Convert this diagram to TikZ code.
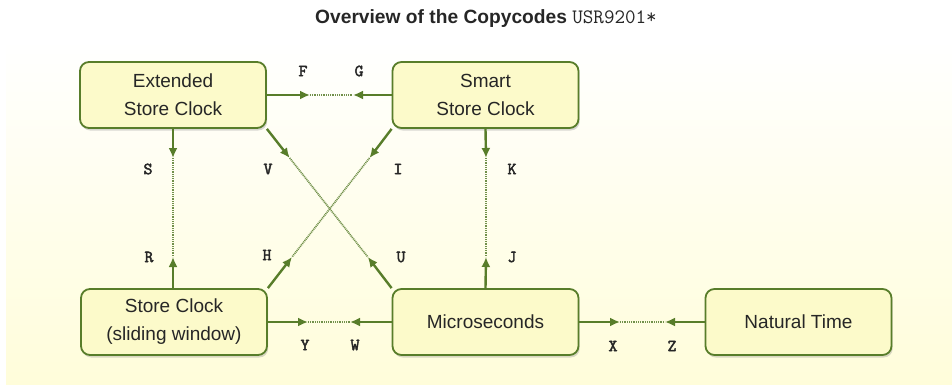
\documentclass[tikz,border=0pt]{standalone}
\usepackage{fontspec}
\setmainfont{Liberation Sans}
\newfontfamily\lblfont[FakeBold=2.5]{lmmono10-regular.otf}
\usetikzlibrary{arrows.meta,shadows}
\definecolor{grn}{RGB}{88,125,42}
\definecolor{boxfill}{RGB}{252,250,202}
\definecolor{bgbot}{RGB}{255,253,218}
\begin{document}
\begin{tikzpicture}[x=1pt,y=-1pt,
  box/.style={draw=grn, line width=1.8pt, fill=boxfill, rounded corners=9pt,
    minimum width=186pt, minimum height=66pt, inner sep=0pt, align=center,
    text=black!85, font=\fontsize{19}{28}\selectfont,
    drop shadow={opacity=0.3, shadow xshift=1.2pt, shadow yshift=-2.5pt}},
  conn/.style={draw=grn, line width=2.4pt, -{Latex[length=10pt,width=9pt]}},
  dots/.style={draw=grn!85, line width=1.7pt, dash pattern=on 1pt off 0.8pt},
  lbl/.style={font=\lblfont\fontsize{17}{17}\selectfont, text=black!85, inner sep=0pt}]
\useasboundingbox (0,0) rectangle (952,385);
\shade[top color=white, bottom color=bgbot] (6,40) rectangle (952,385);

\node[text=black!85, inner sep=0pt] (title) at (486,19)
  {\fontsize{19.2}{20}\selectfont\textbf{Overview of the Copycodes} \fontsize{20.5}{20}\selectfont\texttt{USR9201*}};

\node[box] (ext) at (173,95) {Extended\\Store Clock};
\node[box] (smart) at (485.5,95) {Smart\\Store Clock};
\node[box] (scl) at (174,322) {Store Clock\\(sliding window)};
\node[box] (micro) at (485.5,322) {Microseconds};
\node[box] (nat) at (798.5,322) {Natural Time};

% tip coordinates
\coordinate (tF) at (310,95);
\coordinate (tG) at (353,95);
\coordinate (tS) at (173,158);
\coordinate (tR) at (173,257);
\coordinate (tK) at (486,158);
\coordinate (tJ) at (486,257);
\coordinate (tV) at (289.7,158);
\coordinate (tU) at (367.8,257);
\coordinate (tI) at (369.5,158);
\coordinate (tH) at (292,257);
\coordinate (tY) at (308,322);
\coordinate (tW) at (350,322);
\coordinate (tX) at (620,322);
\coordinate (tZ) at (665,322);

% F/G
\draw[dots] (tF) -- (tG);
\draw[conn] (ext.east) -- (tF);
\draw[conn] (smart.west) -- (tG);
% S/R
\draw[dots] (tS) -- (tR);
\draw[conn] (ext.south) -- (tS);
\draw[conn] (scl.north -| tR) -- (tR);
% K/J
\draw[dots] (tK) -- (tJ);
\draw[conn] (smart.south) -- (tK);
\draw[conn] (micro.north) -- (tJ);
% V/U
\draw[dots] (tV) -- (tU);
\draw[conn] (ext.south east) -- (tV);
\draw[conn] (micro.north west) -- (tU);
% I/H
\draw[dots] (tI) -- (tH);
\draw[conn] (smart.south west) -- (tI);
\draw[conn] (scl.north east) -- (tH);
% Y/W
\draw[dots] (tY) -- (tW);
\draw[conn] (scl.east) -- (tY);
\draw[conn] (micro.west) -- (tW);
% X/Z
\draw[dots] (tX) -- (tZ);
\draw[conn] (micro.east) -- (tX);
\draw[conn] (nat.west) -- (tZ);

% labels
\node[lbl] (lF) at (303,71) {F};
\node[lbl] (lG) at (359,71) {G};
\node[lbl] (lS) at (148,169) {S};
\node[lbl] (lR) at (149,257) {R};
\node[lbl] (lV) at (268,169) {V};
\node[lbl] (lU) at (401,257) {U};
\node[lbl] (lI) at (398,169) {I};
\node[lbl] (lH) at (267,255) {H};
\node[lbl] (lK) at (512,169) {K};
\node[lbl] (lJ) at (512,257) {J};
\node[lbl] (lY) at (305,345) {Y};
\node[lbl] (lW) at (355,345) {W};
\node[lbl] (lX) at (613,346) {X};
\node[lbl] (lZ) at (672,346) {Z};
\end{tikzpicture}
\end{document}
